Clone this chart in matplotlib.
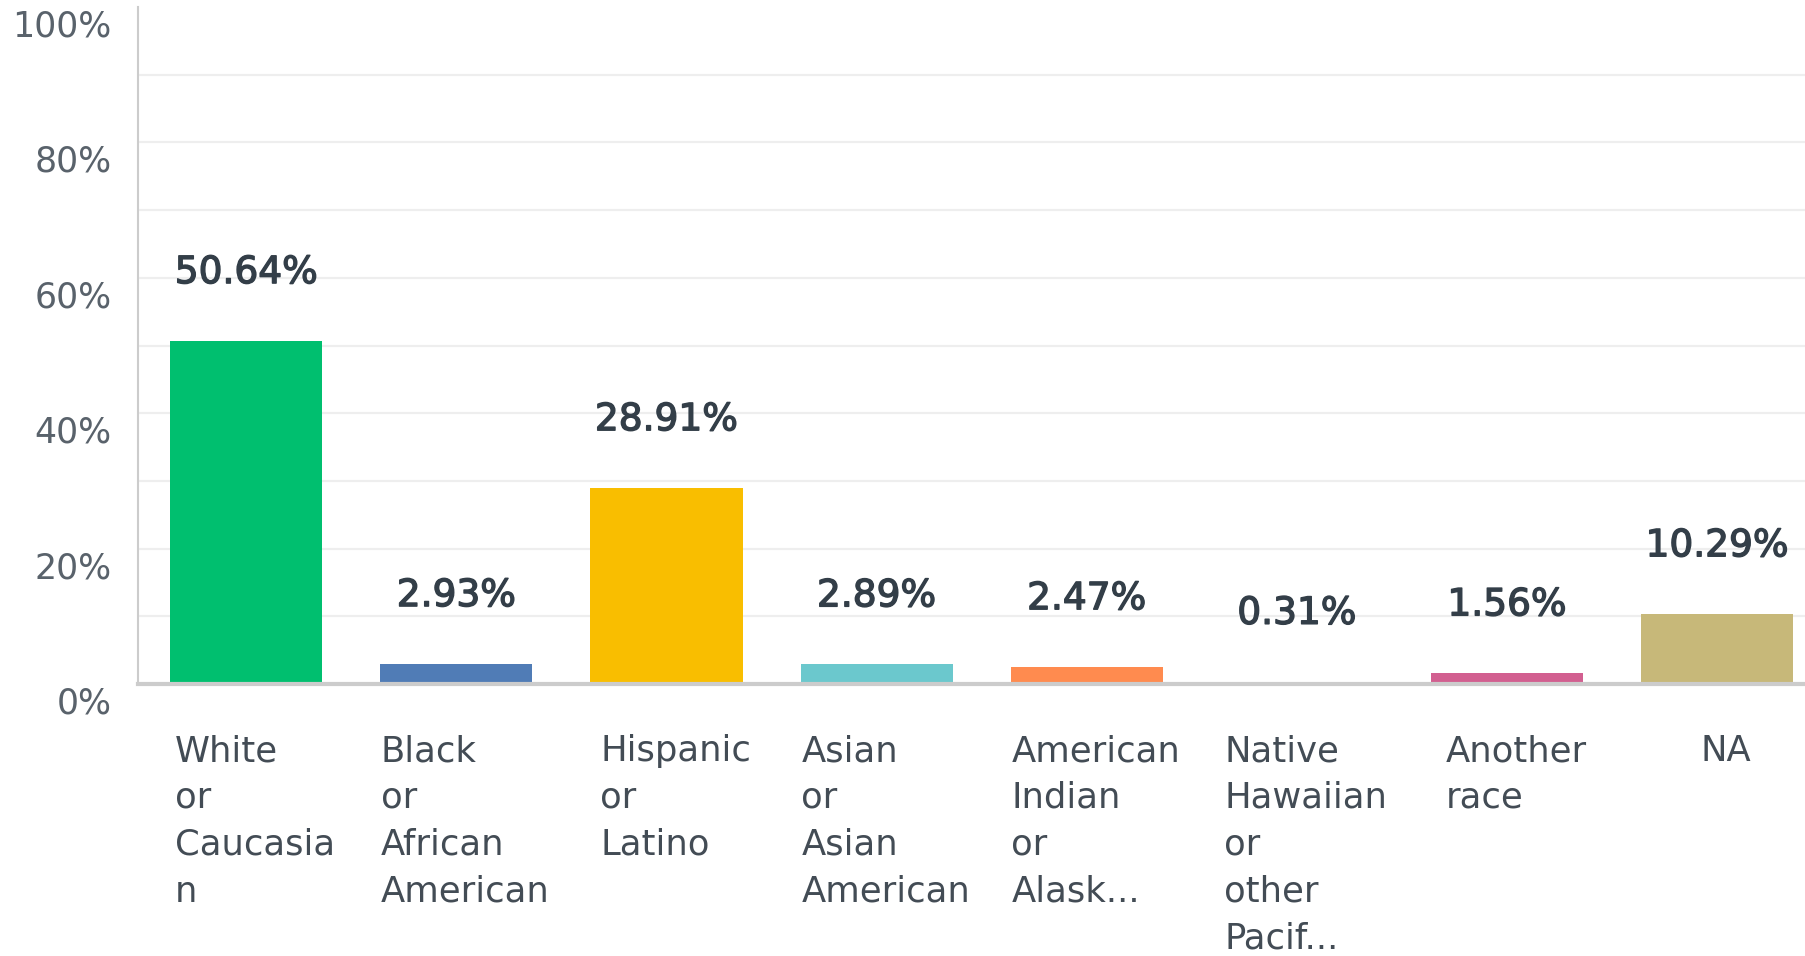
import matplotlib
matplotlib.use("Agg")
import matplotlib.pyplot as plt
import matplotlib.patheffects as pe
from matplotlib.transforms import ScaledTranslation

categories = [
    "White\nor\nCaucasia\nn",
    "Black\nor\nAfrican\nAmerican",
    "Hispanic\nor\nLatino",
    "Asian\nor\nAsian\nAmerican",
    "American\nIndian\nor\nAlask...",
    "Native\nHawaiian\nor\nother\nPacif...",
    "Another\nrace",
    "NA",
]
values = [50.64, 2.93, 28.91, 2.89, 2.47, 0.31, 1.56, 10.29]
value_labels = ["50.64%", "2.93%", "28.91%", "2.89%", "2.47%", "0.31%", "1.56%", "10.29%"]
colors = ["#00BF6F", "#507CB6", "#F9BE00", "#6BC8CD", "#FF8B4F", "#7D5E90", "#D25F90", "#C7B879"]
y_ticks = [0, 20, 40, 60, 80, 100]
y_tick_labels = ["0%", "20%", "40%", "60%", "80%", "100%"]
grid_levels = [10, 20, 30, 40, 50, 60, 70, 80, 90]

plt.rcParams['font.family'] = ['DejaVu Sans']

W, H, DPI = 1806, 956, 100
fig = plt.figure(figsize=(W / DPI, H / DPI), dpi=DPI)
fig.patch.set_facecolor("white")

ax_left = 138 / W
ax_bottom = 1 - 684 / H
ax_top = 1 - 7 / H
ax = fig.add_axes([ax_left, ax_bottom, 1 - ax_left, ax_top - ax_bottom])

x = list(range(len(categories)))
ax.bar(x, values, width=0.724, color=colors, zorder=3)

ax.set_xlim(-0.515, 7.423)
ax.set_ylim(0, 100)

for g in grid_levels:
    ax.axhline(g, color="#eeeeee", lw=1.6, zorder=1)

for xi, v, lab in zip(x, values, value_labels):
    ax.annotate(lab, (xi, v), xytext=(0, 49), textcoords="offset points",
                ha="center", va="center", fontsize=27, fontweight="normal",
                color="#333e48", zorder=4,
                path_effects=[pe.withStroke(linewidth=1.0, foreground="#333e48")])

ax.set_yticks(y_ticks)
ax.set_yticklabels(y_tick_labels, fontsize=25, color="#59626b")
ax.tick_params(axis="y", length=0, pad=19)
offset = ScaledTranslation(0, -16 / DPI, fig.dpi_scale_trans)
for lbl in ax.get_yticklabels():
    lbl.set_transform(lbl.get_transform() + offset)

ax.set_xticks(x)
ax.set_xticklabels(categories, fontsize=25.5, color="#434c55",
                   ha="center", multialignment="left", linespacing=1.48)
ax.tick_params(axis="x", length=0, pad=36)
xoff = ScaledTranslation(9 / DPI, 0, fig.dpi_scale_trans)
for lbl in ax.get_xticklabels():
    lbl.set_transform(lbl.get_transform() + xoff)

for s in ["top", "right"]:
    ax.spines[s].set_visible(False)
ax.spines["left"].set_color("#cccccc")
ax.spines["left"].set_linewidth(1.5)
ax.spines["bottom"].set_color("#cccccc")
ax.spines["bottom"].set_linewidth(3)
ax.spines["bottom"].set_zorder(5)
ax.set_facecolor("white")

fig.savefig("out.png", dpi=DPI, facecolor="white")
